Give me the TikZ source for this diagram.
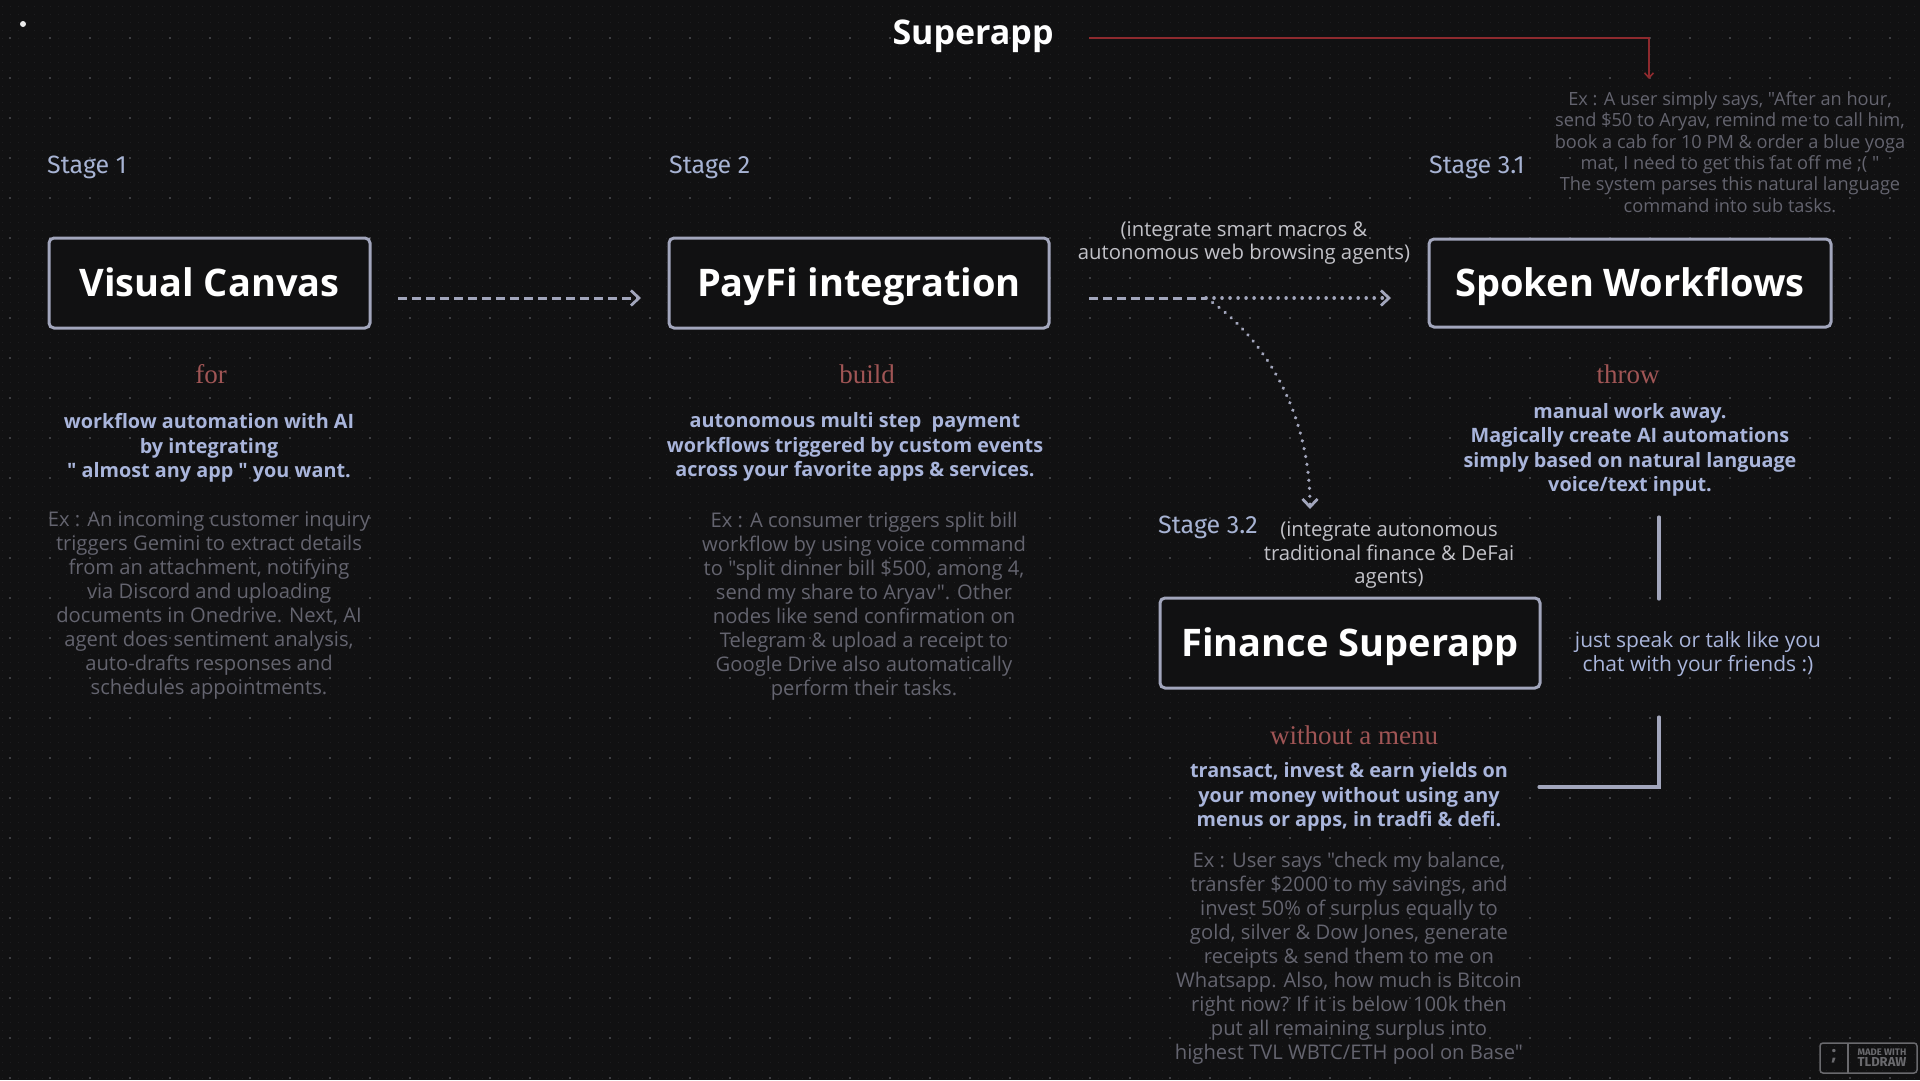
\documentclass[tikz,border=0pt]{standalone}
\usepackage{fontspec}
\setmainfont{Open Sans}
\newfontfamily\hand{Open Sans}
\newfontfamily\plex{Fira Sans}
\newfontfamily\serifw{Liberation Serif}
\usetikzlibrary{arrows.meta}
\definecolor{bg}{HTML}{111112}
\definecolor{gridmaj}{HTML}{3E3E42}
\definecolor{gridmin}{HTML}{1E1E20}
\definecolor{boxline}{HTML}{A2A6BC}
\definecolor{desc}{HTML}{A9B5DB}
\definecolor{exgrey}{HTML}{64646F}
\definecolor{redword}{HTML}{A05555}
\definecolor{stagec}{HTML}{A7B3D3}
\definecolor{integ}{HTML}{C2C2C8}
\definecolor{redline}{HTML}{8E2A2E}
\definecolor{badge}{HTML}{6A6A6E}
\tikzset{
  stagebox/.style={draw=boxline, line width=3, rounded corners=5, fill=bg,
    text=white, font=\hand\bfseries\fontsize{38}{44}\selectfont, inner sep=0,
    text height=27, text depth=0},
  stagelbl/.style={anchor=west, text=stagec, font=\plex\fontsize{25}{29}\selectfont, inner sep=0},
  redw/.style={text=redword, font=\serifw\fontsize{27}{30}\selectfont, inner sep=0},
  desctxt/.style={text=desc, align=center, font=\hand\bfseries\fontsize{19.8}{24.5}\selectfont, inner sep=0},
  extxt/.style={text=exgrey, align=center, font=\hand\fontsize{20.2}{24}\selectfont, inner sep=0},
  integtxt/.style={text=integ, align=center, font=\hand\fontsize{20.3}{23.5}\selectfont, inner sep=0},
  flowarrow/.style={draw=boxline, line width=3, -{Straight Barb[length=8pt,width=15pt,line width=2.8]}},
  dashflow/.style={dash pattern=on 9 off 5},
  dotflow/.style={line cap=round, line width=3.6, dash pattern=on 0.01 off 8},
  sideline/.style={draw=boxline, line width=3.2, line cap=round, line join=miter},
}
\begin{document}
\begin{tikzpicture}[x=1pt, y=-1pt]
\useasboundingbox (0,0) rectangle (1920,1080);
\fill[bg] (0,0) rectangle (1920,1080);
% grid: minor and major dots
\foreach \yy in {6,14,...,1078} {
  \draw[gridmin, line width=1, dash pattern=on 1 off 7] (1.5,\yy) -- (1920,\yy);
}
\foreach \yy in {38,78,...,1078} {
  \draw[gridmaj, line width=2, dash pattern=on 2 off 38] (9,\yy) -- (1920,\yy);
}
\fill[white!92!black] (23,24) circle (3);

% title
\node[text=white, font=\hand\bfseries\fontsize{34}{40}\selectfont, inner sep=0, text height=24, text depth=0] (title) at (973,32) {Superapp};

% stage labels
\node[stagelbl] (s1) at (47,167) {Stage 1};
\node[stagelbl] (s2) at (669,167) {Stage 2};
\node[stagelbl] (s31) at (1429,167) {Stage 3.1};
\node[stagelbl] (s32) at (1158,527) {Stage 3.2};

% boxes
\node[stagebox, minimum width=321, minimum height=90] (vc) at (209.5,283) {Visual Canvas};
\node[stagebox, minimum width=380, minimum height=90] (pf) at (859,283) {PayFi integration};
\node[stagebox, minimum width=402, minimum height=88] (sw) at (1630,283) {Spoken Workflows};
\node[stagebox, minimum width=380, minimum height=90] (fs) at (1350,643) {Finance Superapp};

% red words
\node[redw] (w1) at (211,374) {for};
\node[redw] (w2) at (867,374) {build};
\node[redw] (w3) at (1628,374) {throw};
\node[redw] (w4) at (1354,735) {without a menu};

% descriptions
\node[desctxt] (d1) at (209,448) {workflow automation with AI\\by integrating\\" almost any app " you want.};
\node[desctxt] (d2) at (855,447) {autonomous multi step \ payment\\workflows triggered by custom events\\across your favorite apps \& services.};
\node[desctxt] (d3) at (1630,450) {manual work away.\\Magically create AI automations\\simply based on natural language\\voice/text input.};
\node[desctxt] (d4) at (1349,797) {transact, invest \& earn yields on\\your money without using any\\menus or apps, in tradfi \& defi.};

% examples
\node[extxt] (e1) at (209,606) {Ex : An incoming customer inquiry\\triggers Gemini to extract details\\from an attachment, notifying\\via Discord and uploading\\documents in Onedrive. Next, AI\\agent does sentiment analysis,\\auto-drafts responses and\\schedules appointments.};
\node[extxt] (e2) at (864,606) {Ex : A consumer triggers split bill\\workflow by using voice command\\to "split dinner bill \$500, among 4,\\send my share to Aryav". Other\\nodes like send confirmation on\\Telegram \& upload a receipt to\\Google Drive also automatically\\perform their tasks.};
\node[extxt] (e4) at (1349,958) {Ex : User says "check my balance,\\transfer \$2000 to my savings, and\\invest 50\% of surplus equally to\\gold, silver \& Dow Jones, generate\\receipts \& send them to me on\\Whatsapp. Also, how much is Bitcoin\\right now? If it is below 100k then\\put all remaining surplus into\\highest TVL WBTC/ETH pool on Base"};
\node[extxt, font=\hand\fontsize{18.2}{21.4}\selectfont] (e3) at (1730,152) {Ex : A user simply says, "After an hour,\\send \$50 to Aryav, remind me to call him,\\book a cab for 10 PM \& order a blue yoga\\mat, I need to get this fat off me ;( "\\The system parses this natural language\\command into sub tasks.};

% integrate notes
\node[integtxt] (i1) at (1244,243) {(integrate smart macros \&\\autonomous web browsing agents)};
\node[integtxt] (i2) at (1389,555) {(integrate autonomous\\traditional finance \& DeFai\\agents)};
\node[integtxt, text=desc, font=\hand\fontsize{21}{24}\selectfont] (chat) at (1698,654) {just speak or talk like you\\chat with your friends :)};

% connectors
\coordinate (a1s) at (398,298);
\coordinate (a1e) at (641,298);
\draw[flowarrow, dashflow] (a1s) -- (a1e);
\coordinate (a2s) at (1089,298);
\coordinate (fork) at (1206,298);
\coordinate (a2e) at (1391,298);
\coordinate (a3e) at (1310,509);
\draw[draw=boxline, line width=3, dashflow] (a2s) -- (fork);
\draw[flowarrow, dotflow] (fork) -- (a2e);
\draw[flowarrow, dotflow] (fork) .. controls (1262,335) and (1310,410) .. (a3e);

% red connector from title
\coordinate (r0) at (1089,38);
\coordinate (r1) at (1649,38);
\coordinate (r2) at (1649,79);
\draw[draw=redline, line width=1.6, -{Straight Barb[length=5pt,width=9pt,line width=1.6]}] (r0) -- (r1) -- (r2);

% side lines
\coordinate (v1a) at (1659,517);
\coordinate (v1b) at (1659,599);
\coordinate (v2a) at (1659,717);
\coordinate (v2b) at (1659,787);
\coordinate (v2c) at (1539,787);
\draw[sideline] (v1a) -- (v1b);
\draw[sideline] (v2a) -- (v2b) -- (v2c);

% badge
\draw[badge, line width=1.5, rounded corners=3] (1820,1043) rectangle (1917,1073);
\draw[badge, line width=1.5] (1848,1043) -- (1848,1073);
\node[text=badge, font=\hand\bfseries\fontsize{20}{20}\selectfont, inner sep=0] (semi) at (1834,1056) {;};
\node[text=badge, align=center, font=\plex\bfseries\fontsize{9.5}{11}\selectfont, inner sep=0] (bt) at (1882,1058) {MADE WITH\\{\fontsize{13}{13}\selectfont TLDRAW}};
\end{tikzpicture}
\end{document}
